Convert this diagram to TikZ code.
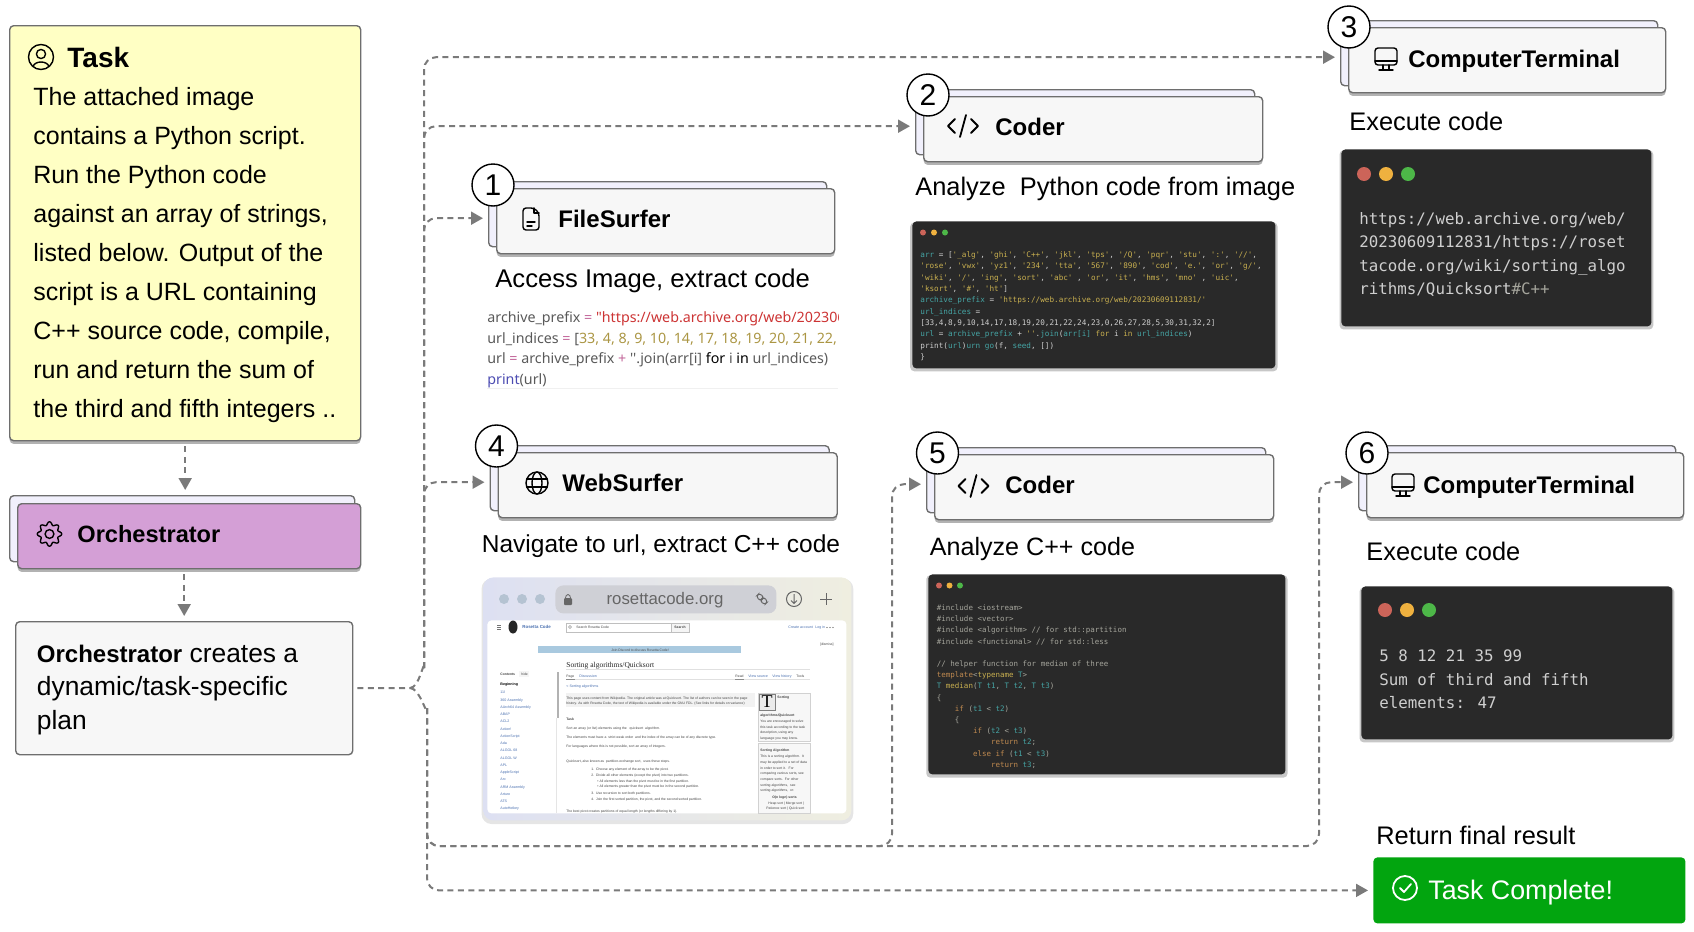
\documentclass[tikz,border=0pt]{standalone}
\usepackage{fontspec}
\setmainfont{Liberation Sans}
\newfontfamily\codefont{DejaVu Sans Mono}
\newfontfamily\notofont{Noto Sans}
\newfontfamily\pageserif{Liberation Serif}
\usepackage{xcolor}
\usepackage{tikz}
\usetikzlibrary{arrows.meta,calc,shadows}
\definecolor{flowgray}{HTML}{7A7A7A}
\definecolor{edgegray}{HTML}{6E6E6E}
\definecolor{taskyellow}{HTML}{FFFFC4}
\definecolor{orchpink}{HTML}{D49FD6}
\definecolor{cardface}{HTML}{F7F7F7}
\definecolor{cardrear}{HTML}{F1F0FC}
\definecolor{termbg}{HTML}{292929}
\definecolor{termtext}{HTML}{CFCFCF}
\definecolor{termteal}{HTML}{45A5A5}
\definecolor{termgold}{HTML}{C9B050}
\definecolor{termorange}{HTML}{C08A50}
\definecolor{termgrey}{HTML}{A5A59C}
\definecolor{dotred}{HTML}{CC6459}
\definecolor{dotamber}{HTML}{EFB13F}
\definecolor{dotgreen}{HTML}{4DB748}
\definecolor{donegreen}{HTML}{02A50F}
\definecolor{pageblue}{HTML}{4A70B0}
\definecolor{pagetxt}{HTML}{444444}
\definecolor{browserleft}{HTML}{DDE0F2}
\definecolor{browserright}{HTML}{EFEEE0}
\definecolor{browserdot}{HTML}{B5C3D2}
\definecolor{urlgray}{HTML}{CFD0D6}
\definecolor{bannerblue}{HTML}{A9C9DF}
\newcommand{\fs}[1]{\fontsize{#1}{#1}\selectfont}
\newcommand{\nm}[1]{\textcolor{termteal}{#1}}
\newcommand{\str}[1]{\textcolor{termgold}{#1}}
\newcommand{\kw}[1]{\textcolor{termorange}{#1}}
\newcommand{\ind}{\hphantom{0000}}
\newcommand{\termdots}[4]{\foreach \c [count=\k] in {dotred,dotamber,dotgreen}{\fill[\c] ({#1+(\k-1)*#3},#2) circle (#4);}}
\newcommand{\monitoricon}[1]{\begin{scope}[shift={(#1)},iconline]
\draw[rounded corners=1.5pt] (-11,-11) rectangle (11,6); \draw (-11,2) -- (11,2); \draw (-3,6) -- (-3,10) (3,6) -- (3,10) (-7,11) -- (7,11);
\end{scope}}
\newcommand{\codeicon}[1]{\begin{scope}[shift={(#1)},iconline,line width=.9pt]
\draw (-8,-7) -- (-15,0) -- (-8,7); \draw (8,-7) -- (15,0) -- (8,7); \draw (3,-11) -- (-3,11);
\end{scope}}
\begin{document}
\begin{tikzpicture}[x=.5pt,y=-.5pt,>=Stealth,
  sized/.style 2 args={minimum width=#1*.5pt,minimum height=#2*.5pt,inner sep=0pt},
  softshadow/.style={drop shadow={shadow xshift=0pt,shadow yshift=-1.6pt,opacity=.3,fill=black}},
  wideshadow/.style={drop shadow={shadow xshift=0pt,shadow yshift=-1pt,shadow scale=1.012,opacity=.22,fill=black}},
  paleshadow/.style={drop shadow={shadow xshift=0pt,shadow yshift=-1.2pt,shadow scale=1.01,opacity=.1,fill=black}},
  cardrear/.style={draw=edgegray,line width=.7pt,fill=cardrear,rounded corners=2pt,anchor=north west},
  cardface/.style={draw=edgegray,line width=.7pt,fill=cardface,rounded corners=2pt,anchor=north west,softshadow},
  stepmark/.style={circle,draw=black,line width=.7pt,fill=white,minimum size=21pt,inner sep=0pt,font=\fs{15}},
  cardtitle/.style={anchor=base west,inner sep=0pt,font=\fs{12}\bfseries},
  steplabel/.style={anchor=base west,inner sep=0pt,font=\fs{12.7}},
  terminal/.style={fill=termbg,rounded corners=2pt,anchor=north west,wideshadow},
  codesmall/.style={anchor=base west,inner sep=0pt,text=termtext,font=\codefont\fs{3.83}},
  codetiny/.style={anchor=base west,inner sep=0pt,text=termgrey,font=\codefont\fs{3.75}},
  codebig/.style={anchor=base west,inner sep=0pt,text=termtext,font=\codefont\fs{7.9}},
  flow/.style={draw=flowgray,line width=1pt,dash pattern=on 3pt off 2.2pt},
  tip/.style={-{Triangle[length=6pt,width=6.5pt,fill=flowgray]},shorten >=2.5pt},
  iconline/.style={line width=.7pt,line cap=round,line join=round},
  pagetext/.style={anchor=base west,inner sep=0pt,text=pagetxt,font=\fs{1.7}},
  pagelink/.style={anchor=base west,inner sep=0pt,text=pageblue,font=\fs{1.8}}]
\useasboundingbox (0,0) rectangle (1694,932);

\node[draw=edgegray,line width=.7pt,fill=taskyellow,rounded corners=2pt,anchor=north west,softshadow,sized={351}{415}] (task) at (9,25) {};
\begin{scope}[shift={(41,57)},iconline]
\draw (0,0) circle (12.5); \draw (0,-3) circle (4.6);
\draw (-8,9.5) .. controls (-6,3.5) and (6,3.5) .. (8,9.5);
\end{scope}
\node[anchor=base west,inner sep=0pt,font=\fs{14}\bfseries] (tasktitle) at (67,67) {Task};
\foreach \t [count=\i] in {The attached image,contains a Python script.,Run the Python code,{against an array of strings,},listed below. Output of the,script is a URL containing,{C++ source code, compile,},run and return the sum of,the third and fifth integers ..}
  {\node[anchor=base west,inner sep=0pt,font=\fs{12.5}] (taskline\i) at (33,{66+39*\i}) {\t};}

\node[cardrear,sized={345}{66}] (orchrear) at (9,495) {};
\node[draw=edgegray,line width=.7pt,fill=orchpink,rounded corners=2pt,anchor=north west,softshadow,sized={343}{65}] (orchface) at (17,503) {};
\begin{scope}[shift={(49.5,534)},iconline]
\draw plot[domain=0:360,samples=121,smooth,variable=\a] ({(10.6+1.6*cos(8*\a))*cos(\a)},{(10.6+1.6*cos(8*\a))*sin(\a)}) -- cycle;
\draw (0,0) circle (4.4);
\end{scope}
\node[anchor=base west,inner sep=0pt,font=\fs{11.8}\bfseries] (orchtitle) at (77,542) {Orchestrator};

\node[draw=edgegray,line width=.7pt,fill=cardface,rounded corners=2pt,anchor=north west,sized={337}{133}] (plan) at (15,621) {};
\node[anchor=base west,inner sep=0pt,font=\fs{13.2}] (plan1) at (36.5,662) {{\fs{12}\textbf{Orchestrator}} creates a};
\node[anchor=base west,inner sep=0pt,font=\fs{13.2}] (plan2) at (36.5,695) {dynamic/task-specific};
\node[anchor=base west,inner sep=0pt,font=\fs{13.2}] (plan3) at (36.5,729) {plan};

\foreach \n/\cx/\cy/\w/\tx/\ty/\name/\lx/\ly/\lab in {
  1/496/188/338/558/227/FileSurfer/495/287/{\fs{12.8}Access Image, extract code},
  2/923/96/339/995/135/Coder/915/195/{Analyze\ \ Python code from image},
  3/1348/27/317/1408/67/ComputerTerminal/1349/130/Execute code,
  4/497.5/452/339/562/491/WebSurfer/481.5/552/{\fs{12.25}Navigate to url, extract C++ code},
  5/934/454/339/1005/493/Coder/929.5/555/{\fs{12.55}Analyze C++ code},
  6/1366/452/317/1423/493/ComputerTerminal/1366/560/Execute code}{
  \node[cardrear,sized={\w}{65}] (rear\n) at (\cx-8,\cy-7) {};
  \node[cardface,sized={\w}{65}] (face\n) at (\cx,\cy) {};
  \node[cardtitle] (title\n) at (\tx,\ty) {\name};
  \node[steplabel] (label\n) at (\lx,\ly) {\lab};
}

\begin{scope}[shift={(531,219)},iconline]
\draw[rounded corners=1.5pt] (-8,-11) -- (3,-11) -- (8,-6) -- (8,11) -- (-8,11) -- cycle;
\draw (3,-11) -- (3,-6) -- (8,-6); \draw (-4,3) -- (4,3) (-4,7) -- (1,7);
\end{scope}
\codeicon{963,126}
\monitoricon{1386,59}
\begin{scope}[shift={(537,483)},iconline]
\draw (0,0) circle (11); \draw (0,0) ellipse (5 and 11);
\draw (-10,-4) -- (10,-4) (-10,4) -- (10,4);
\end{scope}
\codeicon{973.5,486}
\monitoricon{1403,485}

\coordinate (hub) at (410,688);
\coordinate (busup) at (424,668);
\coordinate (busdown) at (427,708);
\coordinate (lane5) at (892,846);
\coordinate (lane6) at (1319,846);
\draw[flow,tip,shorten <=2.5pt] (task.south) -- (task.south |- orchrear.north);
\draw[flow,tip,shorten <=2.5pt] (plan.north |- orchface.south) -- (plan.north);
\draw[flow,shorten <=2pt] (plan.east) -- (hub);
\draw[flow] (hub) to[out=0,in=90] (busup);
\draw[flow] (hub) to[out=0,in=-90] (busdown);
\foreach \n in {1,2,3,4}{\draw[flow,tip,rounded corners=6pt] (busup) |- ([yshift=-2pt]rear\n.west);}
\draw[flow,tip,rounded corners=6pt] (busdown) |- (lane5) |- ([yshift=-2pt]rear5.west);
\draw[flow,tip,rounded corners=6pt] (busdown) |- (lane6) |- ([yshift=-2pt]rear6.west);

\foreach \n/\mx/\my in {1/493/185,2/928/95,3/1349/27,4/496.5/446,5/937.5/453,6/1367/453}
  {\node[stepmark] (mark\n) at (\mx,\my) {\n};}

\begin{scope}
\clip (480,300) rectangle (838,388);
\foreach \t [count=\i] in {\textcolor{black!65}{archive\_prefix} \textcolor{magenta!50!gray}{=} \textcolor{red!60!gray}{"https://web.archive.org/web/20230609112831/"},
  {\textcolor{black!65}{url\_indices} \textcolor{magenta!50!gray}{=} \textcolor{black!65}{[}\textcolor{termgold!85!black}{33, 4, 8, 9, 10, 14, 17, 18, 19, 20, 21, 22,}},
  \textcolor{black!65}{url} \textcolor{magenta!50!gray}{=} \textcolor{black!65}{archive\_prefix} \textcolor{magenta!50!gray}{+} \textcolor{black!65}{''.join(arr[i]} \textbf{for} \textcolor{black!65}{i} \textbf{in} \textcolor{black!65}{url\_indices)},
  \textcolor{blue!40!gray}{\textbf{print}}\textcolor{black!65}{(url)}}
  {\node[anchor=base west,inner sep=0pt,font=\notofont\fs{7.13}] (pyline\i) at (487,{301.8+20.6*\i}) {\t};}
\end{scope}
\draw[black!6,line width=.5pt] (487,388) -- (838,388);

\node[terminal,sized={363}{147}] (term2) at (912,221) {};
\termdots{923}{232.5}{11}{3}
\foreach \t [count=\i] in {{\nm{arr} = [\str{'\_alg'}, \str{'ghi'}, \str{'C++'}, \str{'jkl'}, \str{'tps'}, \str{'/Q'}, \str{'pqr'}, \str{'stu'}, \str{':'}, \str{'//'},},
  {\str{'rose'}, \str{'vwx'}, \str{'yz1'}, \str{'234'}, \str{'tta'}, \str{'567'}, \str{'890'}, \str{'cod'}, \str{'e.'}, \str{'or'}, \str{'g/'},},
  {\str{'wiki'}, \str{'/'}, \str{'ing'}, \str{'sort'}, \str{'abc'} , \str{'or'}, \str{'it'}, \str{'hms'}, \str{'mno'} , \str{'uic'},},
  {\str{'ksort'}, \str{'\#'}, \str{'ht'}]},
  \nm{archive\_prefix} = \str{'https://web.archive.org/web/20230609112831/'},
  \nm{url\_indices} =,
  {[33,4,8,9,10,14,17,18,19,20,21,22,24,23,0,26,27,28,5,30,31,32,2]},
  \nm{url} = \nm{archive\_prefix} + \str{''}.\nm{join}(\nm{arr[i]} \str{for} i \str{in} \nm{url\_indices}),
  {print(\nm{url})\nm{urn} \nm{go}(f, \nm{seed}, [])},
  \}}
  {\node[codesmall] (pyterm\i) at (920,{246.2+11.33*\i}) {\t};}

\node[terminal,sized={310}{177}] (term3) at (1341,149) {};
\termdots{1364}{174}{22}{7}
\foreach \t [count=\i] in {https://web.archive.org/web/,20230609112831/https://roset,tacode.org/wiki/sorting\_algo,rithms/Quicksort\textcolor{termgrey}{\#C++}}
  {\node[codebig] (urlterm\i) at (1359,{200.5+23.5*\i}) {\t};}

\node[terminal,sized={357}{200}] (term5) at (928,574) {};
\termdots{939}{585.5}{10.5}{3}
\foreach \t [count=\i] in {\#include <iostream>,\#include <vector>,\#include <algorithm> // for std::partition,\#include <functional> // for std::less}
  {\node[codetiny] (cppterm\i) at (936.5,{599.3+11.2*\i}) {\t};}
\foreach \t [count=\i from 6] in {// helper function for median of three,
  \kw{template}<\str{typename} \nm{T}>,
  {\nm{T} \str{median}(\nm{T} \nm{t1}, \nm{T} \nm{t2}, \nm{T} \nm{t3})},
  \{,
  \ind\kw{if} (\nm{t1} < \nm{t2}),
  \ind\{,
  \ind\ind\kw{if} (\nm{t2} < \nm{t3}),
  \ind\ind\ind\kw{return} \nm{t2};,
  \ind\ind\kw{else if} (\nm{t1} < \nm{t3}),
  \ind\ind\ind\kw{return} \nm{t3};}
  {\node[codetiny] (cppterm\i) at (936.5,{599.3+11.2*\i}) {\t};}

\node[terminal,sized={311}{153}] (term6) at (1361,586) {};
\termdots{1385}{610}{22}{7}
\foreach \t [count=\i] in {5 8 12 21 35 99,Sum of third and fifth,elements: 47}
  {\node[codebig] (sumterm\i) at (1379,{638+23.5*\i}) {\t};}

\node[steplabel] (returnlabel) at (1376,844) {Return final result};
\node[fill=donegreen,rounded corners=2pt,anchor=north west,sized={312}{66}] (done) at (1373,857) {};
\begin{scope}[shift={(1405,888)},iconline,white,line width=.9pt]
\draw (0,0) circle (12); \draw (-5,0) -- (-1,4) -- (6,-4);
\end{scope}
\node[anchor=base west,inner sep=0pt,text=white,font=\fs{13.4}] (donetext) at (1428,899) {Task Complete!};
\draw[flow,tip,rounded corners=6pt] (busdown) |- (done.west);

\node[anchor=north west,left color=browserleft,right color=browserright,rounded corners=5pt,paleshadow,sized={368}{243}] (browser) at (483,577) {};
\foreach \px in {504,522,540}{\fill[browserdot] (\px,599) circle (5);}
\node[fill=urlgray,rounded corners=4pt,anchor=north west,sized={221}{28}] (urlbar) at (555,585) {};
\node[text=black!60,inner sep=0pt,font=\fs{8.4}] (urltext) at (665,600.5) {rosettacode.org};
\begin{scope}[black!60]
\fill[rounded corners=.5pt] (564,598) rectangle (572,605); \draw[line width=.4pt] (565.5,598) arc (180:360:2.5 and 3.5);
\draw[line width=.5pt,rotate around={-45:(762,599)},rounded corners=1.5pt] (756,596.5) rectangle (762.5,601.5) (761.5,596.5) rectangle (768,601.5);
\draw[line width=.5pt] (794,599) circle (7.5) (794,594) -- (794,603) (791,600.5) -- (794,603.5) -- (797,600.5);
\draw[line width=.5pt] (826,593) -- (826,605) (820,599) -- (832,599);
\end{scope}

\node[fill=white,rounded corners=2pt,anchor=north west,sized={359}{193}] (page) at (487,620) {};
\begin{scope}
\clip (487,620) rectangle (846,813);
\draw[black!55,line width=.3pt] (497,625.5) -- (501,625.5) (497,627.5) -- (501,627.5) (497,629.5) -- (501,629.5);
\fill[black!85] (513,627) ellipse (4.5 and 6.5);
\draw[black!25,line width=.3pt] (566,623) rectangle (671,632); \draw[black!25,fill=black!4,line width=.3pt] (671,623) rectangle (689,632);
\draw[black!40,line width=.25pt] (570,627) circle (1.5);
\foreach \px in {827,830,833}{\fill[black!70] (\px,627.5) circle (.7);}
\fill[bannerblue] (538,646) rectangle (741,653);
\draw[black!12,line width=.4pt] (566,669) -- (810,669) (566,679) -- (810,679);
\draw[black!45,line width=.4pt] (566,679) -- (575,679) (735,679) -- (744,679);
\fill[black!5] (566,693) rectangle (755,707);
\fill[black!4] (519,671) rectangle (529,677);
\fill[black!30] (557,672) rectangle (559,718);
\draw[black!10,line width=.3pt] (556,718) -- (556,813);
\draw[black!18,fill=black!3,line width=.3pt] (758.5,693) rectangle (810,741) (758.5,743) rectangle (810,813);
\draw[black!50,fill=black!8,line width=.3pt] (759.5,694) rectangle (775,710);
\node[text=black,inner sep=0pt,font=\pageserif\fs{9}] (pageT) at (767,702) {T};
\node[anchor=base west,inner sep=0pt,text=black!85,font=\pageserif\fs{3.75}] (pagehead) at (566,667) {Sorting algorithms/Quicksort};
\foreach \px/\py/\t [count=\i] in {576/628.5/Search Rosetta Code,674/628.5/\textbf{Search},735/677/Read,566/677/Page,796/677/Tools,
  820/645/[dismiss],500/675/\textbf{Contents},521/675/hide,566/720/\textbf{Task},
  566/699/{This page uses content from Wikipedia. The original article was at Quicksort. The list of authors can be seen in the page},
  566/704/{history. As with Rosetta Code, the text of Wikipedia is available under the GNU FDL. (See links for details on variance)},
  566/729/Sort an array (or list) elements using the \ \ quicksort \ algorithm.,
  566/738/The elements must have a \ strict weak order \ and the index of the array can be of any discrete type.,
  566/747/{For languages where this is not possible, sort an array of integers.},
  566/762/{Quicksort, also known as \ partition-exchange sort, \ uses these steps.},
  591/770/1.\ \ Choose any element of the array to be the pivot.,
  591/776/2.\ \ Divide all other elements (except the pivot) into two partitions.,
  597/782/{\textbullet\ All elements less than the pivot must be in the first partition.},
  597/787.5/{\textbullet\ All elements greater than the pivot must be in the second partition.},
  591/794/3.\ \ Use recursion to sort both partitions.,
  591/800/{4.\ \ Join the first sorted partition, the pivot, and the second sorted partition.},
  566/812/The best pivot creates partitions of equal length (or lengths differing by 1).,
  777/698/\textbf{Sorting},760/716/\textbf{{algorithms/Quicksort}},760/722/You are encouraged to solve,760/728/this task according to the task,760/733.5/{description, using any},760/739/language you may know.,
  760/751/\textbf{Sorting Algorithm},760/757/This is a sorting algorithm.\ \ It,760/763/may be applied to a set of data,760/769/in order to sort it.\ \ \ For,760/774.5/{comparing various sorts, see},760/780/compare sorts.\ \ For other,760/786/{sorting algorithms, \ see},760/791.5/{sorting algorithms, \ or:},772/798/\textbf{O(n logn) sorts},768/804/Heap sort | Merge sort |,766/809/Patience sort | Quick sort}
  {\node[pagetext] (pagetxt\i) at (\px,\py) {\t};}
\foreach \px/\py/\t [count=\i] in {522/628.5/{\fs{2.2}\textbf{Rosetta Code}},788/628.5/Create account,815/628.5/Log in,579/677/Discussion,748/677/View source,772/677/View history,566/687/< Sorting algorithms,500/685/\textcolor{black}{\textbf{Beginning}}}
  {\node[pagelink] (pagelink\i) at (\px,\py) {\t};}
\node[anchor=base,inner sep=0pt,text=black!70,font=\fs{1.7}] (banner) at (640,651) {Join Discord to discuss Rosetta Code!};
\foreach \t [count=\i] in {11l,360 Assembly,AArch64 Assembly,ABAP,ACL2,Action!,ActionScript,Ada,ALGOL 68,ALGOL W,APL,AppleScript,Arc,ARM Assembly,Arturo,ATS,AutoHotkey}
  {\node[pagelink] (sidelang\i) at (500,{686.5+7.25*\i}) {\t};}
\end{scope}
\end{tikzpicture}
\end{document}
